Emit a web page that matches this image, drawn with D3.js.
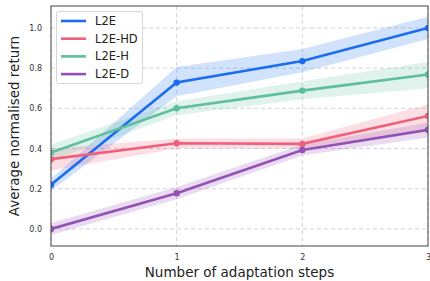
<!DOCTYPE html>
<html><head><meta charset="utf-8">
<script src="https://cdn.jsdelivr.net/npm/d3@7"></script>
<style>body{margin:0;background:#fff}svg{display:block;font-family:"DejaVu Sans",sans-serif}</style>
</head><body><svg id="c" width="430" height="281"></svg>
<script>
const steps = [0, 1, 2, 3];
const xTicks = [0, 1, 2, 3];
const yTicks = [0.0, 0.2, 0.4, 0.6, 0.8, 1.0];
const seriesNames = ["L2E", "L2E-HD", "L2E-H", "L2E-D"];
const seriesColors = ["#1a6cf0", "#f0607a", "#5dbf9b", "#9351b6"];
const meanL2E   = [0.22, 0.728, 0.835, 1.0];
const loL2E     = [0.19, 0.66, 0.78, 0.945];
const hiL2E     = [0.25, 0.805, 0.895, 1.055];
const meanHD    = [0.347, 0.426, 0.423, 0.562];
const loHD      = [0.29, 0.40, 0.40, 0.50];
const hiHD      = [0.40, 0.45, 0.45, 0.62];
const meanH     = [0.38, 0.60, 0.688, 0.768];
const loH       = [0.34, 0.565, 0.645, 0.70];
const hiH       = [0.42, 0.635, 0.735, 0.83];
const meanD     = [0.0, 0.178, 0.393, 0.493];
const loD       = [-0.03, 0.148, 0.365, 0.455];
const hiD       = [0.03, 0.208, 0.42, 0.53];

const series = [
  {name: seriesNames[0], color: seriesColors[0], mean: meanL2E, lo: loL2E, hi: hiL2E},
  {name: seriesNames[1], color: seriesColors[1], mean: meanHD, lo: loHD, hi: hiHD},
  {name: seriesNames[2], color: seriesColors[2], mean: meanH, lo: loH, hi: hiH},
  {name: seriesNames[3], color: seriesColors[3], mean: meanD, lo: loD, hi: hiD}
];

const svg = d3.select("#c");
const L = 51, R = 428, T = 6, B = 246;
const x = d3.scaleLinear().domain([0, 3]).range([L, R]);
const y = d3.scaleLinear().domain([-0.085, 1.109]).range([B, T]);

// grid
const g = svg.append("g");
g.selectAll(".gx").data(xTicks).join("line")
  .attr("x1", d => x(d)).attr("x2", d => x(d)).attr("y1", T).attr("y2", B)
  .attr("stroke", "#c8c8c8").attr("stroke-width", 0.8).attr("stroke-dasharray", "4,3");
g.selectAll(".gy").data(yTicks).join("line")
  .attr("x1", L).attr("x2", R).attr("y1", d => y(d)).attr("y2", d => y(d))
  .attr("stroke", "#c8c8c8").attr("stroke-width", 0.8).attr("stroke-dasharray", "4,3");

// bands
const area = d3.area().x((d, i) => x(steps[i])).y0(d => y(d[0])).y1(d => y(d[1]));
const line = d3.line().x((d, i) => x(steps[i])).y(d => y(d));
const clip = svg.append("clipPath").attr("id", "clip").append("rect")
  .attr("x", L).attr("y", T).attr("width", R - L).attr("height", B - T);
const plot = svg.append("g").attr("clip-path", "url(#clip)");
series.forEach(s => {
  plot.append("path").datum(s.lo.map((v, i) => [v, s.hi[i]]))
    .attr("d", area).attr("fill", s.color).attr("fill-opacity", 0.2);
});
series.forEach(s => {
  plot.append("path").datum(s.mean).attr("d", line)
    .attr("fill", "none").attr("stroke", s.color).attr("stroke-width", 2.6);
  plot.selectAll(null).data(s.mean).join("circle")
    .attr("cx", (d, i) => x(steps[i])).attr("cy", d => y(d)).attr("r", 3.2)
    .attr("fill", s.color);
});

// frame
svg.append("rect").attr("x", L).attr("y", T).attr("width", R - L).attr("height", B - T)
  .attr("fill", "none").attr("stroke", "#444").attr("stroke-width", 1);

// axes
const xAxis = svg.append("g").attr("transform", `translate(0,${B})`)
  .call(d3.axisBottom(x).tickValues(xTicks).tickFormat(d3.format("d")).tickSize(0).tickPadding(8));
const yAxis = svg.append("g").attr("transform", `translate(${L},0)`)
  .call(d3.axisLeft(y).tickValues(yTicks).tickFormat(d3.format(".1f")).tickSize(0).tickPadding(9));
[xAxis, yAxis].forEach(a => {
  a.select(".domain").remove();
  a.selectAll("text").attr("font-size", 8).attr("fill", "#333").attr("font-family", "DejaVu Sans");
});

svg.append("text").attr("x", (L + R) / 2).attr("y", 277).attr("text-anchor", "middle")
  .attr("font-size", 13.5).attr("fill", "#222").text("Number of adaptation steps");
svg.append("text").attr("transform", `translate(19,${(T + B) / 2}) rotate(-90)`)
  .attr("text-anchor", "middle").attr("font-size", 13.5).attr("fill", "#222")
  .text("Average normalised return");

// legend
const lg = svg.append("g");
lg.append("rect").attr("x", 56.5).attr("y", 11.5).attr("width", 86).attr("height", 72)
  .attr("rx", 2).attr("fill", "#fff").attr("fill-opacity", 0.85).attr("stroke", "#ccc").attr("stroke-width", 0.8);
series.forEach((s, i) => {
  const yy = 21 + i * 17.7;
  lg.append("line").attr("x1", 61).attr("x2", 86).attr("y1", yy).attr("y2", yy)
    .attr("stroke", s.color).attr("stroke-width", 2.6);
  lg.append("text").attr("x", 95).attr("y", yy + 4).attr("font-size", 11.5).attr("fill", "#222").text(s.name);
});
</script></body></html>
